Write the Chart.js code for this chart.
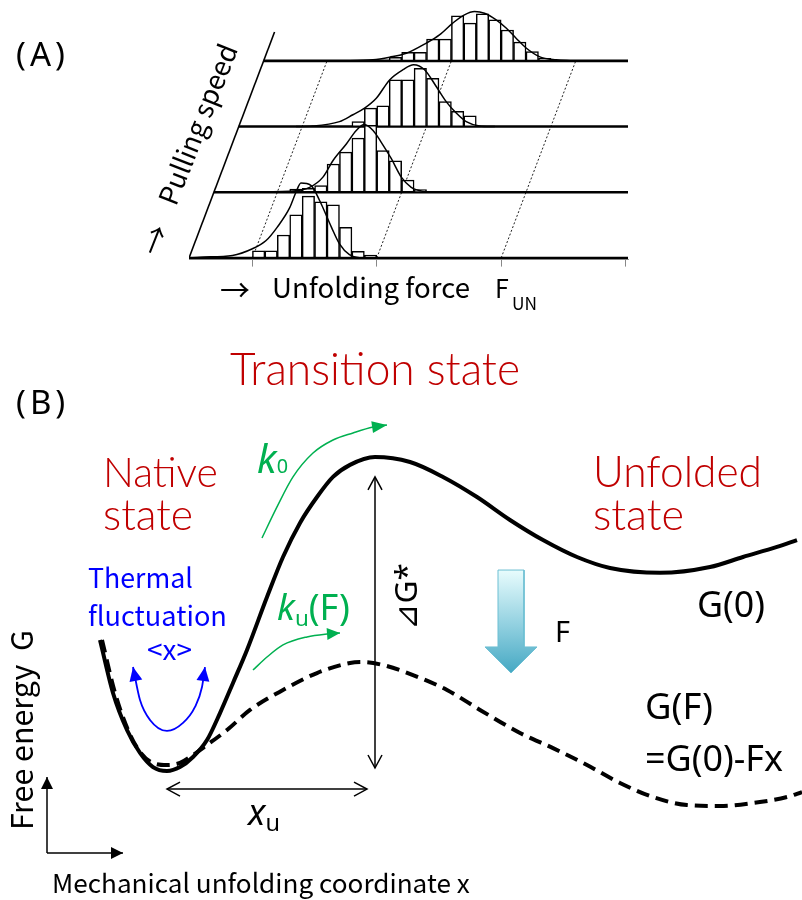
<!DOCTYPE html>
<html>
<head>
<meta charset="utf-8">
<script src="https://cdn.jsdelivr.net/npm/chart.js@4.4.1/dist/chart.umd.min.js"></script>
<style>
  html, body { margin: 0; padding: 0; background: #fff; }
  #wrap { position: relative; width: 802px; height: 900px; overflow: hidden; background: #fff; }
  canvas { position: absolute; left: 0; }
  .lbl { position: absolute; white-space: nowrap; line-height: 1; }
</style>
</head>
<body>
<div id="wrap">
  <canvas id="histA" width="802" height="320" style="top:0px"></canvas>
  <canvas id="energyB" width="802" height="580" style="top:320px"></canvas>
</div>
<script>
// ---- (A) unfolding force histograms, one row per pulling speed ----
const forceTicks = [1, 2, 3, 4];
const binWidth = 0.1;
const binStart = [1.0, 1.1, 1.4, 1.5];
const counts0 = [2.2, 2.2, 7.0, 13.1, 18.8, 17.1, 16.2, 9.3, 2.0, 0.9];
const counts1 = [1.0, 1.2, 2.0, 8.6, 12.2, 16.5, 20.4, 12.7, 9.6, 3.7, 0.8];
const counts2 = [1.5, 5.6, 6.3, 14.2, 14.2, 17.7, 14.7, 7.6, 4.6, 3.3];
const counts3 = [1.1, 2.6, 2.6, 6.6, 6.6, 13.7, 11.5, 14.3, 12.5, 9.4, 5.7, 2.8, 0.8];

// fitted distributions (force, count)
const fitF0 = [0.49, 0.58, 0.84, 1.0, 1.11, 1.2, 1.3, 1.35, 1.39, 1.47, 1.54, 1.635, 1.70, 1.78, 1.86, 1.95];
const fitC0 = [0, 0.24, 0.76, 2.8, 5.3, 9.4, 15.3, 20.0, 22.8, 22.1, 17.5, 9.4, 4.3, 1.0, 0.06, 0];
const fitF1 = [0.69, 1.10, 1.26, 1.367, 1.447, 1.555, 1.635, 1.70, 1.77, 1.836, 1.917, 1.997, 2.077, 2.17, 2.30];
const fitC1 = [0, 0.3, 1.5, 4.6, 9.6, 14.7, 18.8, 20.6, 18.8, 15.2, 10.2, 4.6, 1.5, 0.3, 0];
const fitF2 = [0.95, 1.084, 1.30, 1.408, 1.502, 1.596, 1.703, 1.81, 1.896, 1.984, 2.078, 2.158, 2.239, 2.319, 2.426, 2.55];
const fitC2 = [0, 0.15, 1.5, 3.6, 5.6, 8.6, 14.2, 17.3, 18.8, 17.3, 12.2, 7.6, 4.1, 1.5, 0.2, 0];
const fitF3 = [1.10, 1.369, 1.503, 1.637, 1.798, 1.904, 2.011, 2.105, 2.186, 2.266, 2.36, 2.44, 2.52, 2.601, 2.707, 2.842, 2.973];
const fitC3 = [0, 0.3, 1.1, 2.3, 5.4, 7.9, 11.5, 14.0, 15.0, 14.5, 12.5, 10.0, 6.9, 3.9, 1.3, 0.3, 0];

// ---- (B) free energy profiles along the unfolding coordinate ----
const coordG0 = [-0.335, -0.27, -0.20, -0.135, -0.07, 0, 0.065, 0.13, 0.20, 0.265, 0.33, 0.40, 0.50, 0.58, 0.665, 0.75, 0.83, 0.915, 1.04, 1.215, 1.38, 1.55, 1.715, 1.88, 2.05, 2.215, 2.465, 2.715, 2.88, 3.05, 3.15];
const energyG0 = [8.34, 4.97, 2.61, 1.15, 0.25, 0, 0.25, 0.89, 1.97, 3.69, 5.61, 7.71, 11.08, 13.63, 15.8, 17.45, 18.73, 19.5, 20.0, 19.68, 18.73, 17.45, 15.99, 14.71, 13.63, 12.93, 12.62, 12.99, 13.63, 14.27, 14.71];
const coordGF = [-0.325, -0.26, -0.195, -0.135, -0.07, 0, 0.065, 0.13, 0.20, 0.30, 0.415, 0.58, 0.75, 0.915, 0.98, 1.08, 1.23, 1.40, 1.565, 1.765, 1.93, 2.10, 2.265, 2.43, 2.60, 2.765, 2.93, 3.10, 3.175];
const energyGF = [8.34, 4.97, 2.61, 1.21, 0.51, 0.38, 0.51, 1.02, 1.66, 2.61, 3.89, 5.16, 6.24, 6.88, 6.94, 6.75, 6.11, 5.16, 3.89, 2.42, 1.46, 0.38, -0.76, -1.66, -2.17, -2.23, -2.04, -1.66, -1.34];
const barrierTop = 18.73, barrierX = 1.04, xu = 1.0;

// annotation paths in (B), data units
const k0PathX = [0.475, 0.55, 0.63, 0.73, 0.83, 0.93, 1.03, 1.10];
const k0PathY = [14.84, 16.82, 18.73, 20.25, 21.08, 21.53, 21.91, 22.04];
const kuPathX = [0.43, 0.5, 0.58, 0.70, 0.80, 0.865];
const kuPathY = [6.43, 7.26, 8.03, 8.54, 8.73, 8.79];
const thermX = [-0.17, -0.135, -0.085, 0, 0.08, 0.14, 0.175, 0.19];
const thermY = [6.62, 4.52, 3.25, 2.55, 3.06, 4.08, 5.35, 6.62];
const forceArrowX = [1.655, 1.785, 1.785, 1.85, 1.72, 1.59, 1.655, 1.655];
const forceArrowY = [12.8, 12.8, 7.9, 7.9, 6.24, 7.9, 7.9, 12.8];

// ---- drawing ----
const RED = '#C00000', BLUE = '#0000FF', GREEN = '#00B050';
const JP = '"Noto Sans CJK JP", "Noto Sans", sans-serif';
const SANS = '"Noto Sans", "Open Sans", sans-serif';
const THIN = '"Lato", "Noto Sans", sans-serif';

const rowGap = 20;     // counts between stacked baselines
const rowShift = 0.2;  // oblique shift per row, force units
const forceMin = 0.49, forceMax = 4.02;

function r4(v) { return Math.round(v * 10000) / 10000; }
function pts(xs, ys) { return xs.map((x, i) => ({x: x, y: ys[i]})); }
function line(data, extra) {
    return Object.assign({type: 'line', data: data, borderColor: '#000', borderWidth: 1,
        pointRadius: 0, fill: false, tension: 0}, extra);
}

const histRows = [counts0, counts1, counts2, counts3];
const fitRows = [[fitF0, fitC0], [fitF1, fitC1], [fitF2, fitC2], [fitF3, fitC3]];

function barsFor(k) {
    return histRows[k].map((c, i) => ({
        x: r4(binStart[k] + (i + 0.5) * binWidth + k * rowShift),
        y: [k * rowGap, k * rowGap + c]
    }));
}
function curveFor(k) {
    const fs = fitRows[k][0], cs = fitRows[k][1];
    return fs.map((f, i) => ({x: f + k * rowShift, y: k * rowGap + cs[i]}));
}

const rows = [0, 1, 2, 3];
const dsA = [];
forceTicks.filter(t => t + 3 * rowShift <= forceMax).forEach(t => {
    dsA.push(line([{x: t, y: 0}, {x: t + 3 * rowShift, y: 3 * rowGap}],
        {borderDash: [2, 2], borderWidth: 1, borderColor: '#222', order: 5}));
});
dsA.push(line([{x: forceMin, y: 0}, {x: forceMin + 3.44 * rowShift, y: 3.44 * rowGap}],
    {borderWidth: 1.6, order: 4}));
rows.forEach(k => {
    dsA.push(line([{x: forceMin + k * rowShift, y: k * rowGap}, {x: forceMax, y: k * rowGap}],
        {borderWidth: 2.6, order: 4}));
});
rows.forEach(k => {
    dsA.push({type: 'bar', data: barsFor(k), backgroundColor: '#fff', borderColor: '#000',
        borderWidth: 1.5, borderSkipped: false, grouped: false,
        barPercentage: 1, categoryPercentage: 1, order: 3});
});
rows.forEach(k => {
    dsA.push(line(curveFor(k), {borderWidth: 1.5, cubicInterpolationMode: 'monotone', order: 1}));
});

new Chart(document.getElementById('histA'), {
    type: 'bar',
    data: {datasets: dsA},
    options: {
        responsive: false, animation: false, events: [],
        layout: {padding: {left: 189, right: 174, top: 5, bottom: 53.4}, autoPadding: false},
        plugins: {legend: {display: false}, tooltip: {enabled: false}},
        scales: {
            x: {type: 'linear', min: forceMin, max: forceMax, offset: false,
                afterBuildTicks: (ax) => { ax.ticks = forceTicks.map(v => ({value: v})); },
                grid: {drawOnChartArea: false, drawTicks: true, tickLength: 7, color: '#888', offset: false},
                border: {display: true, color: '#999', width: 1},
                ticks: {display: false}},
            y: {type: 'linear', display: false, min: -0.5, max: 77.0}
        }
    }
});

// arrow heads on the ends of line datasets
const arrowHeads = {
    id: 'arrowHeads',
    afterDatasetsDraw(chart) {
        const ctx = chart.ctx;
        chart.data.datasets.forEach((ds, i) => {
            if (!ds.heads) return;
            const p = chart.getDatasetMeta(i).data;
            const n = p.length;
            ds.heads.forEach(h => {
                const tip = h.at === 'end' ? p[n - 1] : p[0];
                const from = h.at === 'end' ? p[n - 2] : p[1];
                const a = Math.atan2(tip.y - from.y, tip.x - from.x);
                const bx = tip.x - h.len * Math.cos(a), by = tip.y - h.len * Math.sin(a);
                const ox = -Math.sin(a) * h.half, oy = Math.cos(a) * h.half;
                ctx.save();
                ctx.strokeStyle = ds.borderColor;
                ctx.fillStyle = ds.borderColor;
                ctx.lineWidth = ds.borderWidth;
                ctx.beginPath();
                ctx.moveTo(bx + ox, by + oy);
                ctx.lineTo(tip.x, tip.y);
                ctx.lineTo(bx - ox, by - oy);
                if (h.open) {
                    ctx.stroke();
                } else {
                    ctx.closePath();
                    ctx.fill();
                }
                ctx.restore();
            });
        });
    }
};

function forceGradient(c) {
    const ch = c.chart;
    if (!ch.chartArea) return '#9fd5e3';
    const y0 = ch.scales.y.getPixelForValue(Math.max(...forceArrowY));
    const y1 = ch.scales.y.getPixelForValue(Math.min(...forceArrowY));
    const g = ch.ctx.createLinearGradient(0, y0, 0, y1);
    g.addColorStop(0, '#E8FCFD');
    g.addColorStop(0.55, '#8FCFDF');
    g.addColorStop(1, '#45A8C3');
    return g;
}

const openHead = {len: 13, half: 7, open: true};
const dsB = [
    line(pts(forceArrowX, forceArrowY), {borderColor: '#6DBFD3', borderWidth: 1, fill: 'shape',
        backgroundColor: forceGradient}),
    line([{x: barrierX, y: 0.19}, {x: barrierX, y: barrierTop}], {borderWidth: 1.5,
        heads: [Object.assign({at: 'start'}, openHead), Object.assign({at: 'end'}, openHead)]}),
    line([{x: 0, y: -1.15}, {x: xu, y: -1.15}], {borderWidth: 1.5,
        heads: [Object.assign({at: 'start'}, openHead), Object.assign({at: 'end'}, openHead)]}),
    line([{x: -0.6, y: -5.22}, {x: -0.6, y: -0.38}], {borderWidth: 1.5,
        heads: [{at: 'end', len: 12, half: 6}]}),
    line([{x: -0.6, y: -5.22}, {x: -0.22, y: -5.22}], {borderWidth: 1.5,
        heads: [{at: 'end', len: 12, half: 6}]}),
    line(pts(k0PathX, k0PathY), {borderColor: GREEN, borderWidth: 1.5, cubicInterpolationMode: 'monotone',
        heads: [{at: 'end', len: 15, half: 6}]}),
    line(pts(kuPathX, kuPathY), {borderColor: GREEN, borderWidth: 1.5, cubicInterpolationMode: 'monotone',
        heads: [{at: 'end', len: 13, half: 6}]}),
    line(pts(thermX, thermY), {borderColor: BLUE, borderWidth: 1.8, cubicInterpolationMode: 'monotone',
        heads: [{at: 'start', len: 14, half: 6.5}, {at: 'end', len: 14, half: 6.5}]}),
    line(pts(coordGF, energyGF), {borderWidth: 4, borderDash: [13, 7], cubicInterpolationMode: 'monotone'}),
    line(pts(coordG0, energyG0), {borderWidth: 4, cubicInterpolationMode: 'monotone'})
];

new Chart(document.getElementById('energyB'), {
    type: 'line',
    data: {datasets: dsB},
    options: {
        responsive: false, animation: false, events: [],
        layout: {padding: 0, autoPadding: false},
        plugins: {legend: {display: false}, tooltip: {enabled: false}},
        scales: {
            x: {type: 'linear', display: false, min: -0.835, max: 3.175},
            y: {type: 'linear', display: false, min: -8.217, max: 28.726}
        }
    },
    plugins: [arrowHeads]
});

// ---- text labels: x, baseline y, font size, target width ----
const labels = [
    {t: '(A)', x: 16, y: 66, s: 33, f: SANS, ls: 4},
    {t: '→', x: 160, y: 258, s: 30, f: JP, rot: -68.5},
    {t: 'Pulling speed', x: 176, y: 207, s: 28, f: JP, rot: -68.5, w: 170},
    {t: '→', x: 220, y: 301, s: 26, f: JP, w: 30},
    {t: 'Unfolding force', x: 272, y: 298, s: 25, f: JP, w: 198},
    {t: 'F', x: 495, y: 298, s: 25, f: JP},
    {t: 'UN', x: 512, y: 310, s: 15, f: JP, w: 25},
    {t: '(B)', x: 16, y: 414, s: 33, f: SANS, ls: 4},
    {t: 'Transition state', x: 230, y: 385, s: 38, f: THIN, wt: 300, c: RED, w: 290},
    {t: 'Native', x: 103, y: 487, s: 36, f: THIN, wt: 300, c: RED, w: 115},
    {t: 'state', x: 103, y: 530, s: 36, f: THIN, wt: 300, c: RED, w: 90},
    {t: 'Unfolded', x: 593, y: 487, s: 36, f: THIN, wt: 300, c: RED, w: 169},
    {t: 'state', x: 593, y: 530, s: 36, f: THIN, wt: 300, c: RED, w: 91},
    {t: 'Thermal', x: 88, y: 588, s: 24, f: JP, c: BLUE, w: 105},
    {t: 'fluctuation', x: 88, y: 626, s: 24, f: JP, c: BLUE, w: 139},
    {t: '<x>', x: 147, y: 660, s: 22, f: JP, c: BLUE, w: 45},
    {h: '<i>k</i><span style="font-size:0.5em">0</span>', x: 257, y: 473, s: 42, f: SANS, c: GREEN, w: 31},
    {h: '<i>k</i><span style="font-size:0.62em;vertical-align:-0.27em">u</span>(F)', x: 277, y: 620, s: 38, f: SANS, c: GREEN, w: 73},
    {h: '<span style="font-family:\'DejaVu Sans\'">⊿</span>G*', x: 417, y: 630, s: 36, f: SANS, rot: -90, w: 67},
    {t: 'F', x: 555, y: 642, s: 33, f: SANS, w: 15},
    {t: 'G(0)', x: 697, y: 617, s: 35, f: SANS, w: 68},
    {t: 'G(F)', x: 645, y: 719, s: 35, f: SANS, w: 68},
    {t: '=G(0)-Fx', x: 645, y: 771, s: 35, f: SANS, w: 138},
    {h: '<i>x</i><span style="font-size:0.65em;vertical-align:-0.25em">u</span>', x: 248, y: 825, s: 40, f: SANS, w: 32},
    {t: 'Free energy  G', x: 33, y: 830, s: 28, f: JP, rot: -90, w: 200},
    {t: 'Mechanical unfolding coordinate x', x: 52, y: 893, s: 28, f: JP, w: 418}
];

const wrap = document.getElementById('wrap');
labels.forEach(l => {
    const el = document.createElement('div');
    el.className = 'lbl';
    if (l.h) el.innerHTML = l.h; else el.textContent = l.t;
    el.style.fontFamily = l.f;
    el.style.fontSize = l.s + 'px';
    el.style.fontWeight = l.wt || 400;
    el.style.color = l.c || '#000';
    el.style.whiteSpace = 'pre';
    if (l.ls) el.style.letterSpacing = l.ls + 'px';
    el.style.left = '0px';
    el.style.top = '0px';
    wrap.appendChild(el);
    if (l.w) {
        const w = el.getBoundingClientRect().width;
        el.style.fontSize = (l.s * l.w / w) + 'px';
    }
    const m = document.createElement('span');
    m.style.cssText = 'display:inline-block;width:0;height:0;vertical-align:baseline';
    el.appendChild(m);
    const bo = m.offsetTop;
    el.style.left = l.x + 'px';
    el.style.top = (l.y - bo) + 'px';
    if (l.rot) {
        el.style.transformOrigin = '0px ' + bo + 'px';
        el.style.transform = 'rotate(' + l.rot + 'deg)';
    }
});
</script>
</body>
</html>
